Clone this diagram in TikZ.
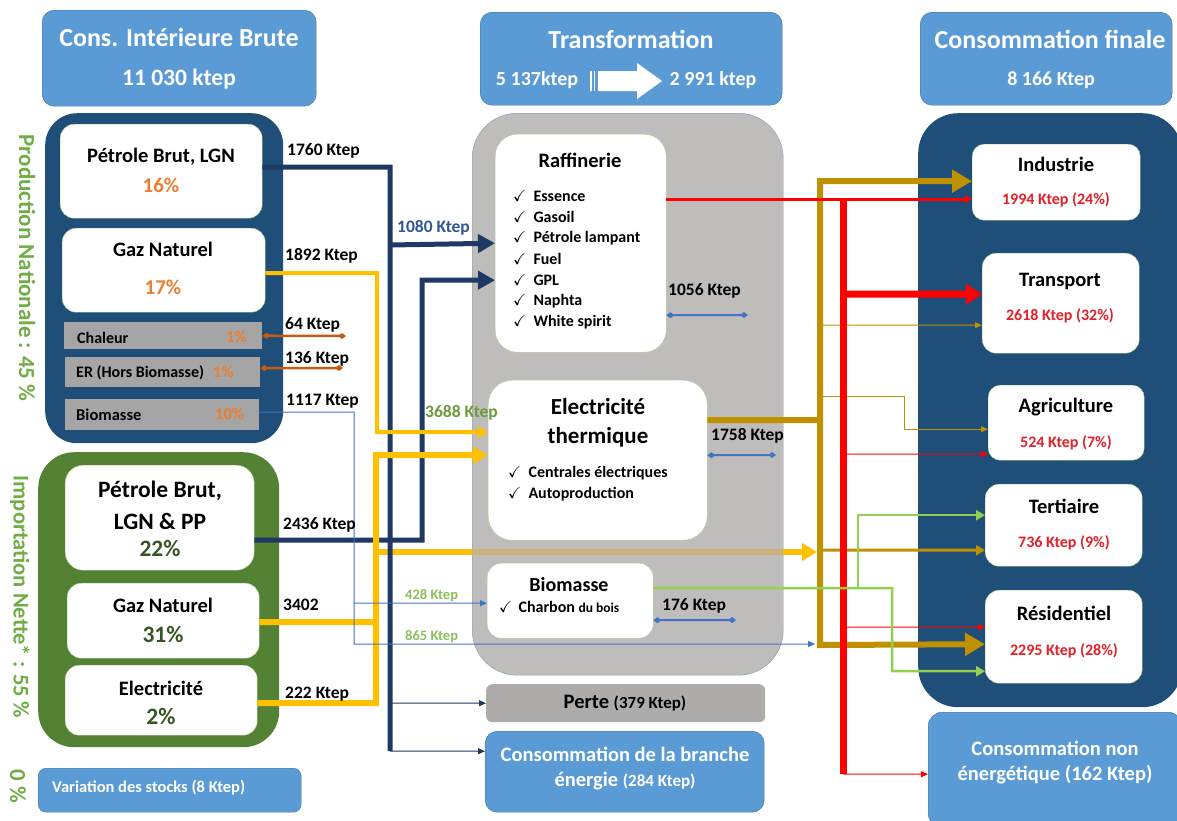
\documentclass[tikz,border=0pt]{standalone}
\usepackage{amssymb}
\usepackage{fontspec}
\setmainfont{Carlito}
\usetikzlibrary{arrows.meta}

\definecolor{hdrblue}{HTML}{5B9BD5}
\definecolor{hdrline}{HTML}{41719C}
\definecolor{prodblue}{HTML}{1F4E79}
\definecolor{impgreen}{HTML}{548235}
\definecolor{navy}{HTML}{1F3864}
\definecolor{boxline}{HTML}{A9D18E}
\definecolor{bargray}{HTML}{A5A5A5}
\definecolor{trgray}{HTML}{BFBCBC}
\definecolor{trline}{HTML}{8497B0}
\definecolor{pgray}{HTML}{AFABAB}
\definecolor{orng}{HTML}{ED7D31}
\definecolor{orline}{HTML}{C55A11}
\definecolor{ylw}{HTML}{FFC000}
\definecolor{ylwdim}{HTML}{CBB17C}
\definecolor{gold}{HTML}{BF9000}
\definecolor{lgreen}{HTML}{92D050}
\definecolor{tblue}{HTML}{4472C4}
\definecolor{redtxt}{HTML}{E3202A}
\definecolor{vgreen}{HTML}{70AD47}
\definecolor{dgreen}{HTML}{375623}
\definecolor{kblue}{HTML}{2F5597}
\definecolor{lblgreen}{HTML}{6C9A3C}
\definecolor{lblgreen2}{HTML}{8CBF5A}

\newcommand{\fsz}[1]{\fontsize{#1}{#1}\selectfont}

\begin{document}
\begin{tikzpicture}[x=1pt, y=-1pt, font=\bfseries,
    hdr/.style={fill=hdrblue, draw=hdrline, rounded corners=12pt, anchor=north west},
    wbox/.style={fill=white, draw=boxline, rounded corners=14pt, anchor=north west},
    gbar/.style={fill=bargray, anchor=north west},
    htxt/.style={text=white, font=\bfseries\fsz{26}},
    hval/.style={text=white, font=\bfseries\fsz{20}},
    btxt/.style={font=\bfseries\fsz{20.5}},
    lbl/.style={font=\bfseries\fsz{17.5}, anchor=west, inner sep=0pt},
    chk/.style={font=\bfseries\fsz{16}, anchor=west, inner sep=0pt},
    redval/.style={text=redtxt, font=\bfseries\fsz{16}},
    smallarr/.style={-{Triangle[length=7pt,width=6pt]}},
    dualdia/.style={{Diamond[length=8pt,width=6pt]}-{Diamond[length=8pt,width=6pt]}},
  ]
\useasboundingbox (0,0) rectangle (1177,820);

% left column
\node[hdr, minimum width=274pt, minimum height=96pt] (cib) at (42,10) {};
\node[htxt] (cibt) at (179,37) {Cons. Intérieure Brute};
\node[htxt, font=\bfseries\fsz{23.5}] (cibv) at (179,79) {11 030 ktep};

\node[fill=prodblue, rounded corners=32pt, anchor=north west, minimum width=238pt, minimum height=330pt] (prod) at (45,113) {};
\node[wbox, minimum width=202pt, minimum height=94pt] (ppet) at (60,124) {};
\node[btxt] (ppett) at (161,157) {Pétrole Brut, LGN};
\node[btxt, text=orng, font=\bfseries\fsz{21}] (ppetv) at (161,185) {16\%};
\node[wbox, minimum width=203pt, minimum height=84pt] (pgaz) at (62,228) {};
\node[btxt] (pgazt) at (163,249) {Gaz Naturel};
\node[btxt, text=orng, font=\bfseries\fsz{21}] (pgazv) at (163,287) {17\%};
\node[gbar, minimum width=198pt, minimum height=27pt] (pchal) at (64,322) {};
\node[chk] (pchalt) at (77,338) {Chaleur};
\node[chk, text=orng, font=\bfseries\fsz{16.5}] (pchalv) at (226,337) {1\%};
\node[gbar, minimum width=195pt, minimum height=30pt] (per) at (65,357) {};
\node[chk] (pert) at (76,373) {ER (Hors Biomasse)};
\node[chk, text=orng, font=\bfseries\fsz{16.5}] (perv) at (213,372) {1\%};
\node[gbar, minimum width=194pt, minimum height=31pt] (pbio) at (65,399) {};
\node[chk, font=\bfseries\fsz{16.5}] (pbiot) at (76,415) {Biomasse};
\node[chk, text=orng, font=\bfseries\fsz{16.5}] (pbiov) at (215,414) {10\%};
\node[rotate=-90, text=vgreen, font=\bfseries\fsz{23}] (prodt) at (27,268) {Production Nationale : 45 \%};

\node[fill=impgreen, rounded corners=36pt, anchor=north west, minimum width=241pt, minimum height=295pt] (imp) at (38,452) {};
\node[wbox, rounded corners=18pt, minimum width=189pt, minimum height=105pt] (ipet) at (65,465) {};
\node[btxt, font=\bfseries\fsz{23.5}] (ipett) at (160,491) {Pétrole Brut,};
\node[btxt, font=\bfseries\fsz{23.5}] (ipett2) at (160,521) {LGN \& PP};
\node[btxt, text=dgreen, font=\bfseries\fsz{23.5}] (ipetv) at (160,548) {22\%};
\node[wbox, minimum width=192pt, minimum height=75pt] (igaz) at (67,583) {};
\node[btxt] (igazt) at (163,605) {Gaz Naturel};
\node[btxt, text=dgreen, font=\bfseries\fsz{23.5}] (igazv) at (163,634) {31\%};
\node[wbox, minimum width=192pt, minimum height=70pt] (iel) at (65,665) {};
\node[btxt] (ielt) at (161,688) {Electricité};
\node[btxt, text=dgreen, font=\bfseries\fsz{23.5}] (ielv) at (161,716) {2\%};
\node[rotate=-90, text=vgreen, font=\bfseries\fsz{22.5}] (impt) at (20,597) {Importation Nette* : 55 \%};
\node[rotate=-90, text=vgreen, font=\bfseries\fsz{23}] (stkt) at (18,786) {0 \%};
\node[hdr, rounded corners=8pt, minimum width=263pt, minimum height=44pt] (stock) at (38,768) {};
\node[chk, text=white, font=\bfseries\fsz{16.5}] (stockt) at (52,788) {Variation des stocks (8 Ktep)};

% transformation
\node[hdr, minimum width=302pt, minimum height=93pt] (trf) at (480,12) {};
\node[htxt] (trft) at (631,39) {Transformation};
\node[hval] (trfa) at (537,80) {5 137ktep};
\fill[white] (598,71) -- (637,71) -- (637,63) -- (662,81) -- (637,99) -- (637,91) -- (598,91) -- cycle;
\draw[white, line width=1.2pt] (591,71) -- (591,91) (594.5,71) -- (594.5,91);
\node[hval] (trfb) at (713,80) {2 991 ktep};

\node[fill=trgray, draw=trline, rounded corners=45pt, anchor=north west, minimum width=311pt, minimum height=562pt] (trbox) at (472,113) {};
\node[wbox, rounded corners=22pt, minimum width=171pt, minimum height=218pt] (raf) at (495,134) {};
\node[btxt] (raft) at (580,160) {Raffinerie};
\foreach \t [count=\i] in {Essence, Gasoil, Pétrole lampant, Fuel, GPL, Naphta, White spirit}
  \node[chk] (rafi\i) at (513,175+21*\i) {$\checkmark$\hspace{7pt}\t};
\node[wbox, rounded corners=24pt, minimum width=219pt, minimum height=160pt] (elec) at (488,380) {};
\node[btxt, font=\bfseries\fsz{23}] (elect) at (598,407) {Electricité};
\node[btxt, font=\bfseries\fsz{23}] (elect2) at (598,437) {thermique};
\node[chk] (eleci1) at (508,473) {$\checkmark$\hspace{7pt}Centrales électriques};
\node[chk] (eleci2) at (508,494) {$\checkmark$\hspace{7pt}Autoproduction};
\node[wbox, minimum width=166pt, minimum height=75pt] (bio) at (487,563) {};
\node[btxt, font=\bfseries\fsz{20}] (biot) at (569,585) {Biomasse};
\node[chk] (bioi) at (499,607) {$\checkmark$\hspace{6pt}Charbon {\fsz{13.5}du bois}};
\node[fill=pgray, rounded corners=6pt, anchor=north west, minimum width=279pt, minimum height=38pt] (perte) at (486,684) {};
\node[btxt] (pertet) at (625,703) {Perte {\fsz{17}(379 Ktep)}};
\node[hdr, minimum width=279pt, minimum height=81pt] (cbe) at (485,731) {};
\node[htxt, font=\bfseries\fsz{20.5}] (cbet) at (625,754) {Consommation de la branche};
\node[htxt, font=\bfseries\fsz{20.5}] (cbet2) at (625,781) {énergie {\fsz{17}(284 Ktep)}};

% consommation finale
\node[hdr, minimum width=252pt, minimum height=93pt] (cf) at (920,12) {};
\node[htxt] (cft) at (1050,39) {Consommation finale};
\node[hval] (cfv) at (1051,80) {8 166 Ktep};
\node[fill=prodblue, rounded corners=40pt, anchor=north west, minimum width=264pt, minimum height=594pt] (fin) at (918,113) {};
\node[wbox, rounded corners=12pt, minimum width=168pt, minimum height=76pt] (ind) at (972,144) {};
\node[btxt] (indt) at (1056,164) {Industrie};
\node[redval] (indv) at (1056,200) {1994 Ktep (24\%)};
\node[wbox, minimum width=157pt, minimum height=100pt] (tra) at (982,253) {};
\node[btxt] (trat) at (1060,281) {Transport};
\node[redval] (trav) at (1060,316) {2618 Ktep (32\%)};
\node[wbox, rounded corners=12pt, minimum width=156pt, minimum height=75pt] (agr) at (988,385) {};
\node[btxt] (agrt) at (1066,407) {Agriculture};
\node[redval] (agrv) at (1066,443) {524 Ktep (7\%)};
\node[wbox, minimum width=157pt, minimum height=82pt] (ter) at (985,484) {};
\node[btxt] (tert) at (1064,506) {Tertiaire};
\node[redval] (terv) at (1064,543) {736 Ktep (9\%)};
\node[wbox, minimum width=157pt, minimum height=93pt] (res) at (985,590) {};
\node[btxt] (rest) at (1064,613) {Résidentiel};
\node[redval] (resv) at (1064,651) {2295 Ktep (28\%)};
\node[hdr, rounded corners=14pt, minimum width=254pt, minimum height=115pt] (cne) at (928,712) {};
\node[htxt, font=\bfseries\fsz{20.5}] (cnet) at (1055,748) {Consommation non};
\node[htxt, font=\bfseries\fsz{20.5}] (cnet2) at (1055,775) {énergétique (162 Ktep)};

% flows left
\coordinate (nv1) at (390,167);
\coordinate (nv2) at (390,245);
\coordinate (nv3) at (390,703);
\coordinate (nv4) at (390,751);
\coordinate (nw1) at (422,540);
\coordinate (nw2) at (422,280);
\coordinate (yp1) at (377,273);
\coordinate (yp2) at (377,432);
\coordinate (yi1) at (376,703);
\coordinate (yi2) at (376,455);
\coordinate (yi3) at (376,552);
\coordinate (yi5) at (376,622);
\coordinate (bb1) at (354,412);
\coordinate (bb2) at (354,644);
\coordinate (bb3) at (354,603);
\coordinate (oc1) at (346,336);
\coordinate (oc2) at (343,368);
\coordinate (gt3) at (817,552);
\coordinate (gt5) at (815,644);

\draw[ylw, line width=6pt, -{Triangle[length=15pt,width=17pt]}] (yi3) -- (gt3);
\draw[ylwdim, line width=6pt] (trbox.west |- yi3) -- (trbox.east |- yi3);
\draw[navy, line width=5pt] ([yshift=4pt]ppet.east) -- (nv1) -- (nv4);
\draw[navy, line width=5pt, -{Triangle[length=17pt,width=18pt]}] (nv2) -- (raf.west);
\draw[navy, line width=5pt, -{Triangle[length=17pt,width=18pt]}] ([yshift=-22.5pt]ipet.east) -- (nw1) -- (nw2) -- ([yshift=-37pt]raf.west);
\draw[navy, line width=1pt, smallarr] (nv3) -- (perte.west);
\draw[navy, line width=1pt, smallarr] (nv4) -- ([yshift=20.5pt]cbe.west);
\draw[ylw, line width=4pt, -{Triangle[length=10pt,width=12pt]}] ([yshift=-3pt]pgaz.east) -- (yp1) -- (yp2) -- ([yshift=28pt]elec.west);
\draw[ylw, line width=6pt, -{Triangle[length=15pt,width=17pt]}] ([yshift=-3pt]iel.east) -- (yi1) -- (yi2) -- ([yshift=5pt]elec.west);
\draw[ylw, line width=6pt] ([yshift=-1.5pt]igaz.east) -- (yi5);
\draw[tblue, line width=1pt, smallarr] ([yshift=2.5pt]pbio.east) -- (bb1) -- (bb2) -- (gt5);
\draw[tblue, line width=1pt, smallarr] (bb3) -- ([yshift=-2.5pt]bio.west);
\draw[orline, line width=2.5pt, dualdia] (pchal.east) -- (oc1);
\draw[orline, line width=2.5pt, dualdia] ([yshift=4pt]per.east) -- (oc2);

% flows right
\coordinate (rt1) at (843,199);
\coordinate (rt2) at (843,294);
\coordinate (rt3) at (843,454);
\coordinate (rt4) at (843,627);
\coordinate (rt5) at (843,774);
\coordinate (gt1) at (820,181);
\coordinate (gt2) at (820,420);
\coordinate (gt4) at (820,325);
\coordinate (gt6) at (820,396);
\coordinate (gt7) at (820,550);
\coordinate (gt8) at (820,645);
\coordinate (ga1) at (904,396);
\coordinate (gg1) at (892,588);
\coordinate (gg2) at (858,588);
\coordinate (bd1) at (748,315);
\coordinate (bd2) at (776,455);
\coordinate (bd3) at (736,620);

\draw[tblue, line width=2pt, dualdia] ([yshift=-72pt]raf.east) -- (bd1);
\draw[tblue, line width=2pt, dualdia] ([yshift=5pt]elec.east) -- (bd2);
\draw[tblue, line width=2pt, dualdia] ([yshift=-19.5pt]bio.east) -- (bd3);

\draw[gold, line width=6pt] ([yshift=40pt]elec.east) -- (gt2);
\draw[gold, line width=6pt, {Triangle[length=20pt,width=22pt]}-{Triangle[length=20pt,width=22pt]}] ([yshift=1pt]ind.west) -- (gt1) -- (gt8) -- ([yshift=-7.5pt]res.west);
\draw[gold, line width=1pt, smallarr] (gt4) -- ([yshift=-22pt]tra.west);
\draw[gold, line width=1pt, smallarr] (gt6) -- (ga1) |- ([yshift=-6.5pt]agr.west);
\draw[gold, line width=3pt, -{Triangle[length=9pt,width=10pt]}] (gt7) -- ([yshift=-25pt]ter.west);

\draw[red, line width=3pt, -{Triangle[length=7pt,width=8pt]}] ([yshift=44pt]raf.east) -- ([yshift=-17pt]ind.west);
\draw[red, line width=7pt] (rt1) -- (rt5);
\draw[red, line width=7pt, -{Triangle[length=16pt,width=20pt]}] (rt2) -- ([yshift=9pt]tra.west);
\draw[red, line width=1pt, smallarr] (rt3) -- ([yshift=-31.5pt]agr.west);
\draw[red, line width=1pt, smallarr] (rt4) -- ([yshift=9.5pt]res.west);
\draw[red, line width=1pt, smallarr] (rt5) -- ([yshift=-4.5pt]cne.west);

\draw[lgreen, line width=2.5pt, -{Triangle[length=9pt,width=10pt]}] ([yshift=12.5pt]bio.east) -- (gg1) |- ([yshift=-34.5pt]res.west);
\draw[lgreen, line width=2.5pt, -{Triangle[length=9pt,width=10pt]}] (gg2) |- ([yshift=10pt]ter.west);

% labels
\node[lbl] (l1760) at (287,151) {1760 Ktep};
\node[lbl] (l1892) at (285,256) {1892 Ktep};
\node[lbl] (l64) at (285,325) {64 Ktep};
\node[lbl] (l136) at (285,359) {136 Ktep};
\node[lbl] (l1117) at (286,401) {1117 Ktep};
\node[lbl] (l2436) at (283,525) {2436 Ktep};
\node[lbl] (l3402) at (283,605) {3402};
\node[lbl] (l222) at (285,694) {222 Ktep};
\node[lbl, text=kblue] (l1080) at (397,228) {1080 Ktep};
\node[lbl, text=lblgreen] (l3688) at (425,413) {3688 Ktep};
\node[lbl, text=lblgreen2, font=\bfseries\fsz{14.5}] (l428) at (405,596) {428 Ktep};
\node[lbl, text=lblgreen2, font=\bfseries\fsz{14.5}] (l865) at (405,637) {865 Ktep};
\node[lbl] (l1056) at (668,291) {1056 Ktep};
\node[lbl] (l1758) at (711,436) {1758 Ktep};
\node[lbl] (l176) at (662,606) {176 Ktep};
\end{tikzpicture}
\end{document}
